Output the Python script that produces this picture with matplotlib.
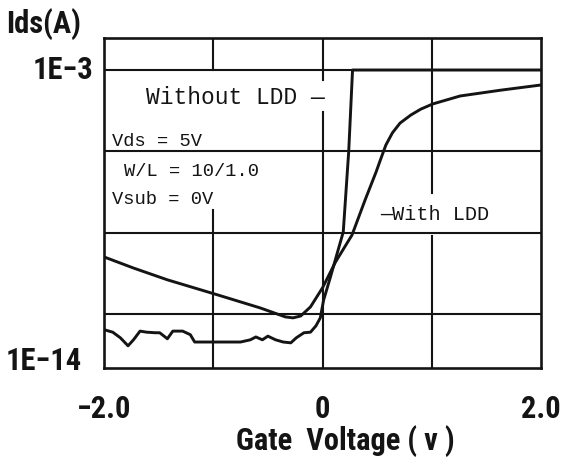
import matplotlib
matplotlib.use("Agg")
import matplotlib.pyplot as plt
import matplotlib.transforms as mtransforms
from matplotlib import font_manager

# ---------------- data ----------------
v_with = [-2.0, -1.73, -1.42, -0.96, -0.57, -0.34, -0.27, -0.20, -0.11, 0.0,
          0.12, 0.27, 0.39, 0.49, 0.53, 0.58, 0.64, 0.71, 0.81, 0.90, 1.01,
          1.26, 1.63, 2.0]
i_with = [1.26e-10, 4.9e-11, 1.8e-11, 5.0e-12, 1.65e-12, 7.7e-13, 7.1e-13, 8.3e-13,
          1.8e-12, 9.1e-12, 8.3e-11, 8.1e-10, 1.6e-8, 1.7e-7, 4.8e-7, 1.7e-6,
          4.8e-6, 1.1e-5, 2.2e-5, 3.6e-5, 5.6e-5, 1.1e-4, 1.8e-4, 2.8e-4]

v_without = [-2.0, -1.92, -1.85, -1.78, -1.73, -1.67, -1.61, -1.53, -1.49, -1.42,
             -1.37, -1.28, -1.21, -1.17, -0.96, -0.75, -0.66, -0.61, -0.55, -0.50,
             -0.43, -0.36, -0.29, -0.24, -0.17, -0.11, -0.06, -0.02, 0.01, 0.07,
             0.19, 0.24, 0.275, 2.0]
i_without = [2.6e-13, 2.1e-13, 1.3e-13, 6.6e-14, 1.1e-13, 2.3e-13, 2.1e-13, 2.0e-13,
             2.0e-13, 1.2e-13, 2.3e-13, 2.3e-13, 1.7e-13, 9.1e-14, 9.1e-14, 9.1e-14,
             1.1e-13, 1.4e-13, 1.1e-13, 1.5e-13, 1.1e-13, 9.1e-14, 8.5e-14, 1.3e-13,
             2.0e-13, 2.1e-13, 3.6e-13, 7.1e-13, 3.2e-12, 2.1e-11, 1.05e-9, 1.0e-6,
             1.0e-3, 1.0e-3]

x_ticks = [-2.0, 0.0, 2.0]
x_tick_labels = ["\u22122.0", "0", "2.0"]
y_label_values = [1e-3, 1e-14]
y_label_texts = ["1E\u22123", "1E\u221214"]
grid_v = [-1.0, 0.0, 1.0]
grid_i = [1e-12, 1e-9, 1e-6, 1e-3]

# ---------------- fonts ----------------
avail = {f.name for f in font_manager.fontManager.ttflist}
def pick(names):
    for n in names:
        if n in avail:
            return n
    return "DejaVu Sans"
big_font = pick(["Liberation Sans Narrow", "Roboto Condensed", "DejaVu Sans"])
mono_font = pick(["Liberation Mono", "DejaVu Sans Mono"])

ink = "#141414"
BIG = 22

W, H = 564, 468
fig = plt.figure(figsize=(W / 100, H / 100), dpi=100)
L, R, T, B = 104, 541, 38, 368
ax = fig.add_axes([L / W, 1 - B / H, (R - L) / W, (B - T) / H])
ax.set_yscale("log")
ax.set_xlim(-2.0, 2.0)
ax.set_ylim(1e-14, 1.52e-2)

for s in ax.spines.values():
    s.set_linewidth(1.9)
    s.set_color(ink)

# grid lines (with the gaps seen in the reference behind the annotations)
for g in grid_i:
    ax.axhline(g, color=ink, lw=1.5, zorder=1)
gaps = {-1.0: (0.479, 0.903), 0.0: (0.776, 0.873), 1.0: (0.40, 0.53)}
for g in grid_v:
    lo, hi = gaps[g]
    ax.axvline(g, ymin=0, ymax=lo, color=ink, lw=1.5, zorder=1)
    ax.axvline(g, ymin=hi, ymax=1, color=ink, lw=1.5, zorder=1)

ax.plot(v_with, i_with, color=ink, lw=2.1, zorder=3, solid_joinstyle="round")
ax.plot(v_without, i_without, color=ink, lw=2.1, zorder=3, solid_joinstyle="round")

# ticks
ax.set_xticks(x_ticks)
ax.set_xticklabels(x_tick_labels, fontfamily=big_font, fontweight="bold", fontsize=BIG)
ax.tick_params(axis="x", length=0, pad=19, colors=ink)
ax.set_yticks([])
ax.yaxis.set_minor_locator(matplotlib.ticker.NullLocator())

ytr = ax.get_yaxis_transform()
ax.text(-0.025, y_label_values[0], y_label_texts[0], transform=ytr, ha="right",
        va="center", fontfamily=big_font, fontweight="bold", fontsize=BIG, color=ink)
ax.text(-0.05, y_label_values[1], y_label_texts[1],
        transform=mtransforms.offset_copy(ytr, fig=fig, y=5, units="points"),
        ha="right", va="center", fontfamily=big_font, fontweight="bold",
        fontsize=BIG, color=ink)

fig.text(6 / W, 1 - 24 / H, "Ids(A)", ha="left", va="center", fontfamily=big_font,
         fontweight="bold", fontsize=BIG, color=ink)
fig.text(345 / W, 1 - 441 / H, "Gate  Voltage ( v )", ha="center", va="center",
         fontfamily=big_font, fontweight="bold", fontsize=BIG, color=ink)

# annotations
def ann(px, py, s, size=13.5):
    ax.text((px - L) / (R - L), (B - py) / (B - T), s, transform=ax.transAxes,
            ha="left", va="center", fontfamily=mono_font, fontsize=size, color=ink,
            zorder=4)

ann(146, 98, "Without LDD \u2014", size=16.5)
ann(112, 142, "Vds = 5V")
ann(124, 172, "W/L = 10/1.0")
ann(112, 200, "Vsub = 0V")
ann(380, 215, "\u2014With LDD", size=14.5)

fig.savefig("out.png", dpi=100, facecolor="white")
